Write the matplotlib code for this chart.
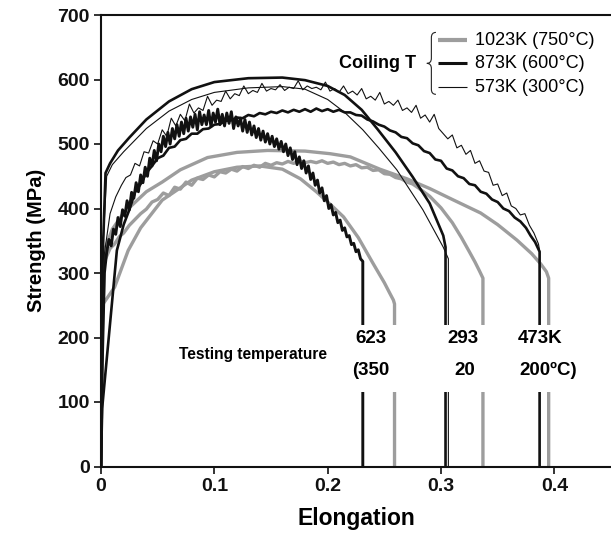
import matplotlib
matplotlib.use("Agg")
import matplotlib.pyplot as plt
from matplotlib.path import Path
from matplotlib.patches import PathPatch, Rectangle

plt.rcParams['font.family'] = ['Liberation Sans', 'DejaVu Sans']

# ---------------- data (elongation, strength MPa) ----------------
# 1023K coiling, tested at 473K (smooth, upper gray)
ga_x = [0, 0.001, 0.003, 0.01, 0.02, 0.04, 0.054, 0.07, 0.094, 0.12, 0.147, 0.18, 0.202, 0.22,
        0.246, 0.27, 0.29, 0.31, 0.335, 0.35, 0.367, 0.38, 0.388, 0.393, 0.395, 0.395]
ga_y = [0, 250, 335, 368, 393, 426, 441, 460, 479, 487, 490, 489, 485, 480,
        461, 446, 431, 414, 393, 375, 351, 330, 314, 302, 292, 0]

# 1023K coiling, tested at 293K (noisy gray)
gb_x = [0, 0.001, 0.003, 0.008, 0.012, 0.016, 0.02, 0.025, 0.03, 0.035, 0.04, 0.045, 0.05, 0.055,
        0.06, 0.065, 0.07, 0.075, 0.08, 0.085, 0.09, 0.095, 0.1, 0.105, 0.11, 0.115, 0.12, 0.125,
        0.13, 0.135, 0.14, 0.145, 0.15, 0.155, 0.16, 0.165, 0.17, 0.175, 0.18, 0.185, 0.19, 0.195,
        0.2, 0.205, 0.21, 0.215, 0.22, 0.225, 0.23, 0.235, 0.24, 0.245, 0.25, 0.255, 0.26, 0.265,
        0.27, 0.275, 0.28, 0.29, 0.3, 0.31, 0.318, 0.325, 0.33, 0.334, 0.337, 0.337]
gb_y = [0, 200, 318, 338, 345, 356, 362, 374, 383, 392, 399, 410, 414, 424,
        420, 433, 430, 441, 436, 447, 445, 452, 449, 457, 455, 461, 458, 465,
        462, 467, 464, 470, 467, 471, 469, 473, 470, 474, 471, 473, 471, 474,
        470, 472, 468, 470, 466, 468, 463, 464, 459, 460, 454, 453, 448, 446,
        441, 438, 432, 419, 401, 378, 355, 333, 317, 303, 292, 0]

# 1023K coiling, tested at 623K (smooth inner gray)
gc_x = [0, 0.001, 0.012, 0.024, 0.035, 0.054, 0.08, 0.1, 0.12, 0.14, 0.16, 0.176, 0.19, 0.205,
        0.214, 0.227, 0.24, 0.25, 0.255, 0.258, 0.259, 0.259]
gc_y = [0, 250, 278, 335, 370, 413, 444, 457, 464, 466, 461, 446, 426, 402,
        387, 355, 315, 285, 268, 258, 252, 0]

# 873K coiling, tested at 293K (thick smooth)
a_x = [0, 0.001, 0.004, 0.008, 0.015, 0.025, 0.04, 0.06, 0.08, 0.10, 0.13, 0.16, 0.18, 0.2,
       0.215, 0.23, 0.244, 0.26, 0.275, 0.29, 0.302, 0.304, 0.304]
a_y = [0, 300, 455, 470, 490, 510, 538, 566, 585, 596, 602, 603, 599, 590,
       576, 553, 523, 487, 449, 408, 358, 340, 0]

# 573K coiling, tested at 293K (thin smooth)
b_x = [0, 0.002, 0.005, 0.01, 0.02, 0.04, 0.06, 0.08, 0.1, 0.13, 0.16, 0.18, 0.2, 0.215,
       0.231, 0.245, 0.261, 0.284, 0.302, 0.3065, 0.3065]
b_y = [0, 350, 450, 468, 488, 524, 551, 569, 580, 587, 589, 585, 569, 549,
       522, 494, 460, 398, 340, 322, 0]

# 573K coiling, tested at 473K (thin noisy)
c_x = [0, 0.003, 0.008, 0.013, 0.018,
       0.022, 0.026, 0.03, 0.034, 0.038, 0.042, 0.046, 0.05, 0.054, 0.058,
       0.062, 0.066, 0.07, 0.074, 0.078, 0.082, 0.086, 0.09, 0.094, 0.098,
       0.102, 0.106, 0.11, 0.114, 0.118, 0.122, 0.126, 0.13, 0.134, 0.138,
       0.142, 0.146, 0.15, 0.154, 0.158, 0.162, 0.166, 0.17, 0.174, 0.178,
       0.182, 0.186, 0.19, 0.194, 0.198, 0.202, 0.206, 0.21, 0.214, 0.218,
       0.222, 0.226, 0.23, 0.234, 0.238, 0.242, 0.246, 0.25, 0.254, 0.258,
       0.262, 0.266, 0.27, 0.274, 0.278, 0.282, 0.286, 0.29, 0.294, 0.298,
       0.302, 0.306, 0.31, 0.314, 0.318, 0.322, 0.326, 0.33, 0.334, 0.338,
       0.342, 0.346, 0.35, 0.354, 0.358, 0.362, 0.366, 0.37, 0.374, 0.378,
       0.382, 0.386, 0.387, 0.387]
c_y = [0, 330, 392, 418, 436,
       448, 452, 470, 466, 488, 486, 505, 500, 522, 512,
       540, 528, 546, 536, 562, 548, 556, 552, 574, 560,
       568, 566, 582, 570, 578, 575, 590, 578, 583, 580,
       594, 582, 586, 584, 592, 583, 588, 586, 598, 584,
       590, 586, 588, 584, 596, 582, 586, 580, 590, 578,
       582, 576, 586, 570, 574, 568, 580, 562, 566, 560,
       568, 552, 556, 549, 560, 540, 545, 534, 546, 524,
       516, 508, 514, 494, 498, 484, 490, 470, 474, 458,
       456, 436, 438, 420, 424, 404, 400, 390, 392, 374,
       362, 345, 335, 0]

# 873K coiling, tested at 623K (thick very noisy)
d_x = [0, 0.001, 0.003, 0.005, 0.007, 0.009, 0.011, 0.013, 0.015, 0.017, 0.019, 0.021, 0.023,
       0.025, 0.027, 0.029, 0.031, 0.033, 0.035, 0.037, 0.039, 0.041, 0.043, 0.045, 0.047,
       0.049, 0.051, 0.053, 0.055, 0.057, 0.059, 0.061, 0.063, 0.065, 0.067, 0.069, 0.071,
       0.073, 0.075, 0.077, 0.079, 0.081, 0.083, 0.085, 0.087, 0.089, 0.091, 0.093, 0.095,
       0.097, 0.099, 0.101, 0.103, 0.105, 0.107, 0.109, 0.111, 0.113, 0.115, 0.117, 0.119,
       0.121, 0.123, 0.125, 0.127, 0.129, 0.131, 0.133, 0.135, 0.137, 0.139, 0.141, 0.143,
       0.145, 0.147, 0.149, 0.151, 0.153, 0.155, 0.157, 0.159, 0.161, 0.163, 0.165, 0.167,
       0.169, 0.171, 0.173, 0.175, 0.177, 0.179, 0.181, 0.183, 0.185, 0.187, 0.189, 0.191,
       0.193, 0.195, 0.197, 0.199, 0.201, 0.203, 0.205, 0.207, 0.209, 0.211, 0.213, 0.215,
       0.217, 0.219, 0.221, 0.223, 0.225, 0.227, 0.229, 0.231, 0.231]
d_y = [0, 150, 300, 332, 352, 342, 368, 360, 386, 372, 398, 388, 412, 398, 425, 416, 440,
       426, 452, 440, 464, 450, 478, 466, 490, 474, 500, 488, 512, 496, 518, 500, 524, 508,
       530, 512, 534, 516, 540, 520, 542, 526, 546, 522, 550, 530, 545, 530, 552, 527, 548,
       534, 554, 530, 546, 528, 548, 532, 550, 524, 542, 528, 540, 520, 538, 518, 534, 514,
       528, 510, 524, 506, 520, 503, 516, 500, 512, 496, 508, 492, 504, 488, 500, 482, 494,
       476, 488, 468, 480, 462, 474, 455, 466, 445, 455, 436, 444, 424, 432, 412, 420, 400,
       406, 390, 394, 378, 382, 366, 370, 356, 358, 344, 346, 333, 336, 322, 318, 0]

# 873K coiling, tested at 473K (thick, mildly noisy)
e_x = [0, 0.001, 0.014, 0.02, 0.025, 0.03, 0.035, 0.04, 0.045, 0.05, 0.055, 0.06, 0.065,
       0.07, 0.075, 0.08, 0.085, 0.09, 0.095, 0.1, 0.105, 0.11, 0.115, 0.12, 0.125, 0.13,
       0.135, 0.14, 0.145, 0.15, 0.155, 0.16, 0.165, 0.17, 0.175, 0.18, 0.185, 0.19, 0.195,
       0.2, 0.205, 0.21, 0.215, 0.22, 0.225, 0.23, 0.235, 0.24, 0.245, 0.25, 0.255, 0.26,
       0.265, 0.27, 0.275, 0.28, 0.285, 0.29, 0.295, 0.3, 0.305, 0.31, 0.315, 0.32, 0.325,
       0.33, 0.335, 0.34, 0.345, 0.35, 0.355, 0.36, 0.365, 0.37, 0.375, 0.379, 0.383, 0.387, 0.387]
e_y = [0, 90, 335, 375, 398, 425, 438, 455, 466, 478, 482, 494, 496, 506, 508, 516, 516,
       523, 524, 530, 531, 536, 537, 541, 540, 545, 543, 548, 546, 550, 548, 552, 549, 553,
       550, 554, 550, 555, 551, 554, 550, 553, 549, 549, 545, 544, 538, 535, 530, 527, 521,
       518, 511, 509, 501, 498, 489, 486, 476, 474, 462, 459, 450, 447, 438, 436, 426, 423,
       414, 410, 400, 396, 386, 380, 370, 358, 348, 333, 0]

xticks = [0, 0.1, 0.2, 0.3, 0.4]
xtick_labels = ["0", "0.1", "0.2", "0.3", "0.4"]
yticks = [0, 100, 200, 300, 400, 500, 600, 700]
legend_labels = ["1023K (750°C)", "873K (600°C)", "573K (300°C)"]
test_k = ["623", "293", "473K"]
test_c = ["(350", "20", "200ºC)"]

# ---------------- styles ----------------
GRAY = "#9d9d9d"
BLACK = "#111111"
lw_gray, lw_thick, lw_thin = 2.4, 1.9, 0.8

fig = plt.figure(figsize=(6.11, 5.39), dpi=100)
ax = fig.add_axes([101/611, 72.5/539, 510/611, 451.5/539])

for xs, ys in [(gc_x, gc_y), (gb_x, gb_y), (ga_x, ga_y)]:
    ax.plot(xs, ys, color=GRAY, lw=lw_gray, solid_joinstyle='round', zorder=2)
ax.plot(d_x, d_y, color=BLACK, lw=2.1, zorder=3)
ax.plot(e_x, e_y, color=BLACK, lw=lw_thick, zorder=3)
ax.plot(a_x, a_y, color=BLACK, lw=lw_thick, zorder=3)
ax.plot(b_x, b_y, color=BLACK, lw=lw_thin, zorder=3)
ax.plot(c_x, c_y, color=BLACK, lw=lw_thin, zorder=3)

ax.set_xlim(0, 0.45)
ax.set_ylim(0, 700)
ax.set_xticks(xticks)
ax.set_xticklabels(xtick_labels)
ax.set_yticks(yticks)
for lab in ax.get_xticklabels() + ax.get_yticklabels():
    lab.set_fontweight('bold')
    lab.set_fontsize(14)
ax.tick_params(direction='out', length=5, width=1.2, colors='#111111', pad=3)
for s in ['left', 'bottom', 'top']:
    ax.spines[s].set_linewidth(1.5)
    ax.spines[s].set_color('#111111')
ax.spines['right'].set_visible(False)

ax.set_xlabel("Elongation", fontsize=16.5, fontweight='bold', labelpad=9)
ax.set_ylabel("Strength (MPa)", fontsize=14.5, fontweight='bold', labelpad=8)

# white band behind testing temperature labels
ax.add_patch(Rectangle((0.222, 115), 0.19, 104, facecolor='white', edgecolor='none', zorder=5))
text_x = [0.238, 0.319, 0.387]
text_x2 = [0.238, 0.321, 0.395]
for xk, xc, k, c in zip(text_x, text_x2, test_k, test_c):
    ax.text(xk, 199, k, ha='center', va='center', fontsize=13.5, fontweight='bold', zorder=6)
    ax.text(xc, 149, c, ha='center', va='center', fontsize=13.5, fontweight='bold', zorder=6)
ax.text(0.134, 173, "Testing temperature", ha='center', va='center', fontsize=11.2,
        fontweight='bold', zorder=6)

# legend (manual)
leg_y = [661, 625, 588]
leg_styles = [(GRAY, lw_gray + 0.6), (BLACK, lw_thick + 0.3), (BLACK, lw_thin)]
for yy, (col, lw), lab in zip(leg_y, leg_styles, legend_labels):
    ax.plot([0.2975, 0.323], [yy, yy], color=col, lw=lw, solid_capstyle='butt', zorder=6, clip_on=False)
    ax.text(0.330, yy, lab, ha='left', va='center', fontsize=13, zorder=6)
ax.text(0.278, 625, "Coiling T", ha='right', va='center', fontsize=13, fontweight='bold', zorder=6)

# brace
bx_tip, bx_back, bx_mid = 0.2955, 0.2915, 0.2875
y_top, y_bot, y_mid = 673, 577, 625
verts = [(bx_tip, y_top), (bx_back, y_top), (bx_back, y_top - 8),
         (bx_back, y_mid + 8), (bx_back, y_mid), (bx_mid, y_mid),
         (bx_back, y_mid), (bx_back, y_mid - 8),
         (bx_back, y_bot + 8), (bx_back, y_bot), (bx_tip, y_bot)]
codes = [Path.MOVETO, Path.CURVE3, Path.CURVE3,
         Path.LINETO, Path.CURVE3, Path.CURVE3,
         Path.CURVE3, Path.CURVE3,
         Path.LINETO, Path.CURVE3, Path.CURVE3]
ax.add_patch(PathPatch(Path(verts, codes), facecolor='none', edgecolor='#222222', lw=0.8,
                       zorder=6, clip_on=False))

fig.savefig("out.png", dpi=100)
